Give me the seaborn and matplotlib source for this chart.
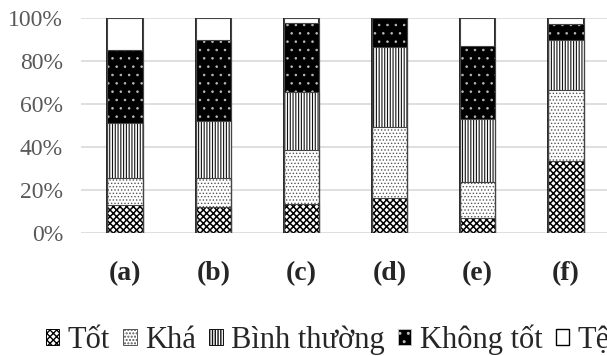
import pandas as pd
import seaborn as sns
import matplotlib.pyplot as plt
from matplotlib.patches import Patch

# Dữ liệu (%)
categories = ['(a)', '(b)', '(c)', '(d)', '(e)', '(f)']
tot = [13, 12, 13.5, 16.5, 7, 33.3]
kha = [12.5, 13.5, 25, 33, 16.5, 33.3]
binh_thuong = [25.5, 26.5, 27, 37, 29.5, 23.4]
khong_tot = [34, 38, 32, 13.5, 34, 7]
te = [15, 10, 2.5, 0, 13, 3]

series_names = ['Tốt', 'Khá', 'Bình thường', 'Không tốt', 'Tệ']

df = pd.DataFrame({'cat': categories, 'Tốt': tot, 'Khá': kha,
                   'Bình thường': binh_thuong, 'Không tốt': khong_tot, 'Tệ': te})
cum = df[series_names].cumsum(axis=1)
cum['cat'] = df['cat']

sns.set_style('white')
plt.rcParams['font.family'] = ['Liberation Serif', 'DejaVu Serif']

# kiểu tô cho từng nhóm
styles = {
    'Tốt': dict(face='white', edge='black', hatch='xxxxx', hlw=1.1, lw=0),
    'Khá': dict(face='white', edge='#555555', hatch='.....', hlw=0.6, lw=0),
    'Bình thường': dict(face='white', edge='#111111', hatch='||||||', hlw=0.8, lw=0),
    'Không tốt': dict(face='black', edge='#bbbbbb', hatch='..', hlw=0.6, lw=0),
    'Tệ': dict(face='white', edge='black', hatch='', hlw=0.5, lw=1.2),
}

fig = plt.figure(figsize=(6.07, 3.56), dpi=100)
ax = fig.add_axes([81 / 607, 1 - 233 / 356, 529 / 607, 215 / 356])

# vẽ chồng: cột tích lũy từ trên xuống
for name in series_names[::-1]:
    st = styles[name]
    sns.barplot(data=cum, x='cat', y=name, ax=ax, width=0.4, color=st['face'],
                saturation=1, zorder=3)
    for p in ax.containers[-1].patches:
        p.set_facecolor(st['face'])
        p.set_edgecolor(st['edge'])
        p.set_hatch(st['hatch'])
        p.set_linewidth(st['lw'])
        try:
            p.set_hatch_linewidth(st['hlw'])
        except AttributeError:
            pass

# viền mảnh quanh mỗi đoạn
for name in series_names[::-1]:
    sns.barplot(data=cum, x='cat', y=name, ax=ax, width=0.4, fill=False,
                color='#444444', linewidth=0.8, zorder=4)

ax.set_ylim(0, 100)
ax.set_xlim(-0.5, 5.5)
ax.set_yticks(range(0, 101, 20))
ax.set_yticklabels([f'{v}%' for v in range(0, 101, 20)])
ax.yaxis.grid(True, color='#d9d9d9', linewidth=1.2, zorder=0)
ax.set_axisbelow(True)
for s in ax.spines.values():
    s.set_visible(False)
ax.set_xlabel('')
ax.set_ylabel('')
ax.tick_params(axis='y', length=0, pad=13, labelsize=17, labelcolor='#595959')
ax.tick_params(axis='x', length=0, pad=20, labelsize=20)
for t in ax.get_xticklabels():
    t.set_fontweight('bold')

handles = []
for name in series_names:
    st = styles[name]
    h = Patch(facecolor=st['face'], edgecolor=st['edge'] if name != 'Tệ' else 'black',
              hatch=st['hatch'], linewidth=1 if name == 'Tệ' else 0.7)
    handles.append(h)
fig.legend(handles, series_names, loc='center left', bbox_to_anchor=(46 / 607, 1 - 340 / 356),
           ncol=5, frameon=False, fontsize=22, handlelength=0.43, handleheight=0.43,
           handletextpad=0.27, columnspacing=0.45, borderpad=0, borderaxespad=0)

fig.savefig('out.png', dpi=100)
